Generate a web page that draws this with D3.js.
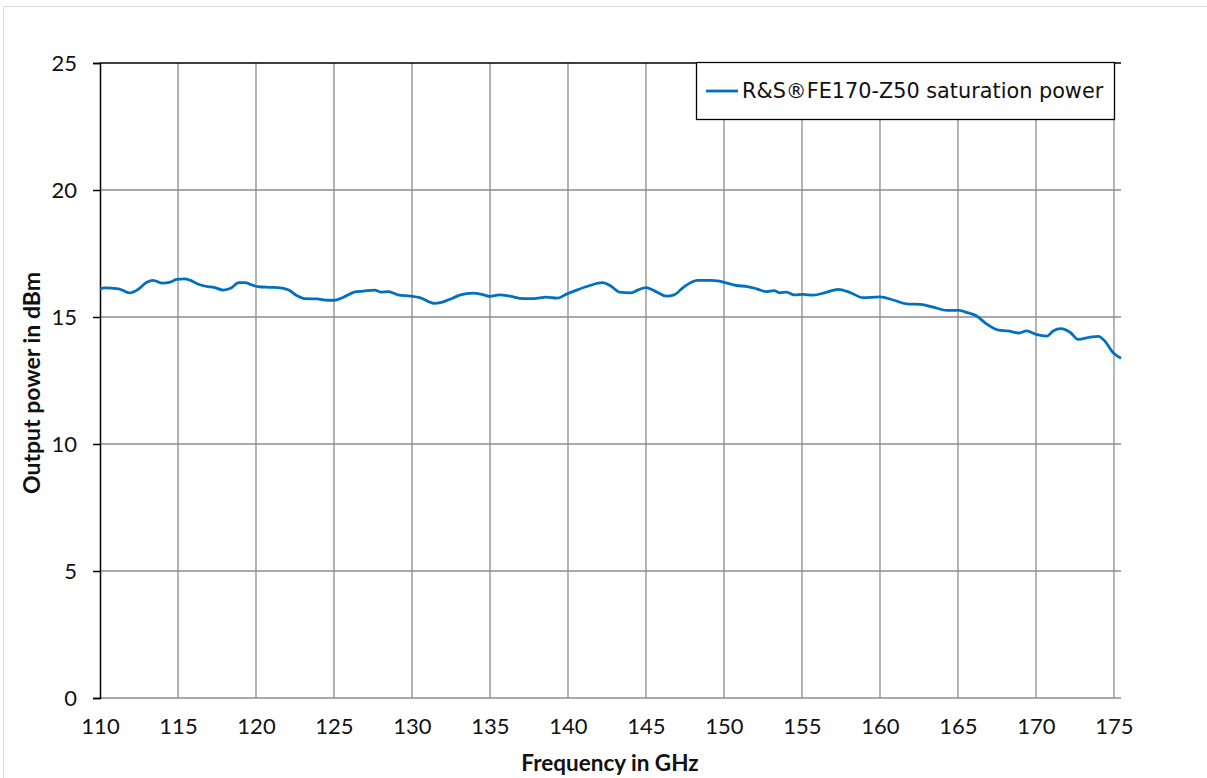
<!DOCTYPE html>
<html>
<head>
<meta charset="utf-8">
<script src="https://cdn.jsdelivr.net/npm/d3@7"></script>
<style>
  html, body { margin: 0; padding: 0; background: #fff; }
  svg { display: block; }
</style>
</head>
<body>
<svg id="chart" width="1207" height="778"></svg>
<script>
// ---- data ----
const freqGHz = [110.0, 110.3, 111.2, 111.9, 112.4, 113.0, 113.4, 114.0, 114.5, 114.9, 115.4, 115.8, 116.3, 116.9, 117.3, 117.9, 118.4, 118.9, 119.3, 119.7, 120.1, 120.8, 121.4, 122.1, 122.6, 123.2, 123.9, 124.6, 125.0, 125.6, 126.3, 126.9, 127.6, 128.0, 128.5, 129.1, 129.9, 130.5, 131.4, 131.9, 132.6, 133.1, 133.9, 134.6, 135.0, 135.6, 136.3, 137.1, 137.8, 138.6, 139.3, 139.9, 140.6, 141.4, 142.2, 142.7, 143.3, 144.0, 144.5, 145.0, 145.7, 146.3, 146.8, 147.4, 148.3, 149.1, 149.7, 150.2, 150.8, 151.5, 152.1, 152.7, 153.2, 153.6, 154.0, 154.5, 155.1, 155.7, 156.6, 157.3, 158.1, 158.9, 160.0, 160.9, 161.7, 162.6, 163.4, 164.3, 165.1, 165.6, 166.2, 166.8, 167.6, 168.2, 168.9, 169.4, 170.0, 170.7, 171.1, 171.6, 172.2, 172.7, 173.5, 174.0, 174.4, 175.0, 175.45];
const powerDBm = [16.11, 16.15, 16.11, 15.95, 16.07, 16.37, 16.44, 16.33, 16.37, 16.48, 16.50, 16.44, 16.29, 16.20, 16.17, 16.06, 16.14, 16.35, 16.35, 16.27, 16.20, 16.17, 16.16, 16.06, 15.85, 15.72, 15.71, 15.66, 15.66, 15.78, 15.98, 16.02, 16.06, 15.98, 16.00, 15.87, 15.82, 15.76, 15.54, 15.58, 15.74, 15.87, 15.94, 15.87, 15.81, 15.87, 15.82, 15.72, 15.72, 15.78, 15.74, 15.90, 16.07, 16.24, 16.35, 16.24, 15.98, 15.95, 16.07, 16.16, 15.98, 15.82, 15.87, 16.17, 16.44, 16.44, 16.41, 16.33, 16.24, 16.20, 16.11, 16.00, 16.04, 15.95, 15.98, 15.87, 15.89, 15.86, 15.98, 16.09, 15.96, 15.76, 15.79, 15.66, 15.52, 15.50, 15.39, 15.26, 15.26, 15.17, 15.04, 14.74, 14.48, 14.45, 14.37, 14.45, 14.32, 14.25, 14.45, 14.54, 14.39, 14.12, 14.21, 14.24, 14.06, 13.56, 13.38];
const xTicks = [110, 115, 120, 125, 130, 135, 140, 145, 150, 155, 160, 165, 170, 175];
const yTicks = [0, 5, 10, 15, 20, 25];
const seriesName = "R&S\u00AEFE170-Z50 saturation power";
const xTitle = "Frequency in GHz";
const yTitle = "Output power in dBm";

// ---- layout ----
const svg = d3.select("#chart");
const pL = 100, pR = 1121, pT = 63, pB = 698;
const x = d3.scaleLinear().domain([110, 175.45]).range([pL, pR]);
const y = d3.scaleLinear().domain([0, 25]).range([pB, pT]);
const tickFont = "Lato, 'Open Sans', sans-serif";

// outer frame
svg.append("rect").attr("x", 3.5).attr("y", 6.5).attr("width", 1220).attr("height", 800)
  .attr("fill", "none").attr("stroke", "#d9d9d9").attr("stroke-width", 1);

// horizontal gridlines
svg.append("g").selectAll("line").data(yTicks.filter(d => d > 0 && d < 25)).join("line")
  .attr("x1", pL).attr("x2", pR)
  .attr("y1", d => y(d)).attr("y2", d => y(d))
  .attr("stroke", "#8c8c8c").attr("stroke-width", 1.3);

// vertical gridlines
svg.append("g").selectAll("line").data(xTicks.filter(d => d > 110)).join("line")
  .attr("x1", d => x(d)).attr("x2", d => x(d))
  .attr("y1", pT).attr("y2", pB)
  .attr("stroke", "#8c8c8c").attr("stroke-width", 1.3);

// bottom axis line (gray)
svg.append("line").attr("x1", pL).attr("x2", pR).attr("y1", pB).attr("y2", pB)
  .attr("stroke", "#8c8c8c").attr("stroke-width", 1.3);

// top line (black)
svg.append("line").attr("x1", pL).attr("x2", pR).attr("y1", pT).attr("y2", pT)
  .attr("stroke", "#000").attr("stroke-width", 1.5);

// y axis
const yAxis = svg.append("g").attr("transform", `translate(${pL},0)`)
  .call(d3.axisLeft(y).tickValues(yTicks).tickSize(7).tickPadding(16).tickFormat(d3.format("d")));
yAxis.select(".domain").attr("stroke", "#000").attr("stroke-width", 1.5);
yAxis.selectAll(".tick line").attr("stroke", "#000").attr("stroke-width", 1.5);
yAxis.selectAll(".tick text").attr("font-family", tickFont).attr("font-size", 22).attr("fill", "#111");

// x axis labels
const xAxis = svg.append("g").attr("transform", `translate(0,${pB})`)
  .call(d3.axisBottom(x).tickValues(xTicks).tickSize(0).tickPadding(20).tickFormat(d3.format("d")));
xAxis.select(".domain").remove();
xAxis.selectAll(".tick text").attr("font-family", tickFont).attr("font-size", 22).attr("fill", "#111");

// series line
const line = d3.line().x((d, i) => x(freqGHz[i])).y(d => y(d)).curve(d3.curveMonotoneX);
svg.append("path").datum(powerDBm).attr("d", line)
  .attr("fill", "none").attr("stroke", "#0070C0").attr("stroke-width", 2.8)
  .attr("stroke-linejoin", "round");

// axis titles
svg.append("text").attr("x", 610).attr("y", 771).attr("text-anchor", "middle")
  .attr("font-family", tickFont).attr("font-weight", "bold").attr("font-size", 22.5).attr("fill", "#111")
  .text(xTitle);
svg.append("text").attr("transform", "translate(40,383) rotate(-90)").attr("text-anchor", "middle")
  .attr("font-family", tickFont).attr("font-weight", "bold").attr("font-size", 23).attr("fill", "#111")
  .text(yTitle);

// legend
const lg = svg.append("g");
lg.append("rect").attr("x", 696.5).attr("y", 62.5).attr("width", 418).attr("height", 57)
  .attr("fill", "#fff").attr("stroke", "#000").attr("stroke-width", 1.3);
lg.append("line").attr("x1", 706).attr("x2", 738).attr("y1", 91).attr("y2", 91)
  .attr("stroke", "#0070C0").attr("stroke-width", 2.8);
lg.append("text").attr("x", 742).attr("y", 98)
  .attr("font-family", "'DejaVu Sans', sans-serif").attr("font-size", 20.8).attr("fill", "#111")
  .text(seriesName);
</script>
</body>
</html>
